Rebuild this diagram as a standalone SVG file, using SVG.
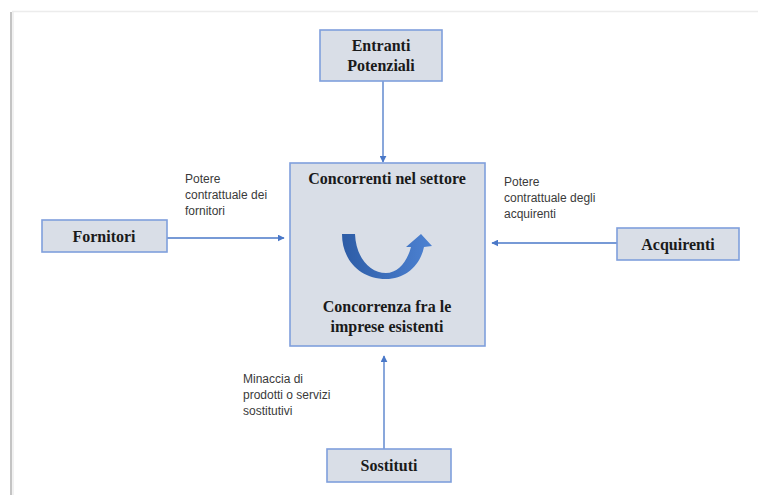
<svg xmlns="http://www.w3.org/2000/svg" width="758" height="495" viewBox="0 0 758 495">
<style>
.box{fill:#d9dee7;stroke:#7f9fdc;stroke-width:1.6}
.bt{font-family:"Liberation Serif","Times New Roman",serif;font-weight:bold;font-size:16px;fill:#1a1a1a;text-anchor:middle}
.lb{font-family:"Liberation Sans",Arial,sans-serif;font-size:12px;fill:#3a3a3a}
.cn{stroke:#4a78c8;stroke-width:1.3;fill:none;marker-end:url(#ah)}
</style>
<defs>
<marker id="ah" viewBox="0 0 10 10" refX="9" refY="5" markerWidth="7" markerHeight="7" markerUnits="userSpaceOnUse" orient="auto">
<path d="M0,0 L10,5 L0,10 Z" fill="#4a78c8"/>
</marker>
<linearGradient id="ug" x1="0" y1="0" x2="1" y2="0">
<stop offset="0" stop-color="#2d5ca6"/>
<stop offset="1" stop-color="#4d82d2"/>
</linearGradient>
</defs>
<rect width="758" height="495" fill="#ffffff"/>
<line x1="12" y1="11.5" x2="758" y2="11.5" stroke="#ececec" stroke-width="1.5"/>
<line x1="11" y1="12" x2="11" y2="495" stroke="#c4c4c4" stroke-width="2"/>
<line x1="13" y1="12" x2="13" y2="495" stroke="#ececec" stroke-width="1.5"/>
<g id="connectors">
<line class="cn" x1="383" y1="81" x2="383" y2="162"/>
<line class="cn" x1="167" y1="238" x2="284" y2="238"/>
<line class="cn" x1="617" y1="243" x2="492" y2="243"/>
<line class="cn" x1="384" y1="449" x2="384" y2="356"/>
</g>
<g id="entranti">
<rect class="box" x="320" y="30" width="122" height="51"/>
<text class="bt" x="381" y="51">Entranti</text>
<text class="bt" x="381" y="71">Potenziali</text>
</g>
<g id="concorrenti">
<rect class="box" x="290" y="163" width="195" height="183"/>
<text class="bt" x="387" y="184">Concorrenti nel settore</text>
<path d="M342,234 L355,234 C356,258 370,273 386,273 C398,273 407,262 411,247 L406,247 L421,234 L432,246 L424,247 C420,266 405,279 386,279 C360,279 342,260 342,234 Z" fill="url(#ug)"/>
<text class="bt" x="387" y="312">Concorrenza fra le</text>
<text class="bt" x="387" y="332">imprese esistenti</text>
</g>
<g id="fornitori">
<rect class="box" x="42" y="220" width="125" height="32"/>
<text class="bt" x="104" y="242">Fornitori</text>
<text class="lb" x="185" y="183">Potere</text>
<text class="lb" x="185" y="199">contrattuale dei</text>
<text class="lb" x="185" y="215">fornitori</text>
</g>
<g id="acquirenti">
<rect class="box" x="617" y="228" width="122" height="32"/>
<text class="bt" x="678" y="250">Acquirenti</text>
<text class="lb" x="504" y="186">Potere</text>
<text class="lb" x="504" y="202">contrattuale degli</text>
<text class="lb" x="504" y="218">acquirenti</text>
</g>
<g id="sostituti">
<rect class="box" x="327" y="449" width="124" height="33"/>
<text class="bt" x="389" y="471">Sostituti</text>
<text class="lb" x="243" y="383">Minaccia di</text>
<text class="lb" x="243" y="399">prodotti o servizi</text>
<text class="lb" x="243" y="415">sostitutivi</text>
</g>
</svg>
